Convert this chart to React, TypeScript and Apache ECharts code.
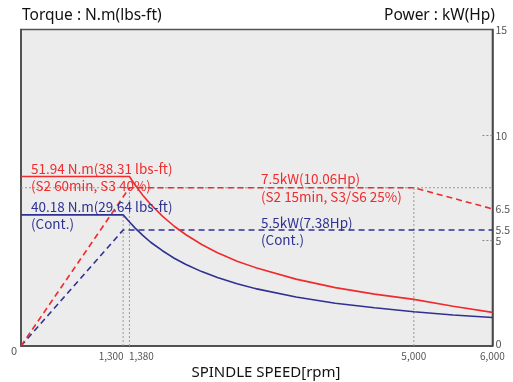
import React, { useEffect, useRef } from "react";
import * as echarts from "echarts";

// ---- data ----
const torqueS2: [number, number][] = [
  [0, 51.94], [1380, 51.94], [1450, 49.4], [1550, 46.2], [1650, 43.4], [1800, 39.8],
  [1950, 36.7], [2100, 34.1], [2300, 31.1], [2500, 28.6], [2750, 26.0], [3000, 23.9],
  [3500, 20.5], [4000, 17.9], [4500, 15.9], [5000, 14.3], [5500, 12.2], [6000, 10.3],
];
const torqueCont: [number, number][] = [
  [0, 40.18], [1300, 40.18], [1370, 38.3], [1450, 36.2], [1550, 33.9], [1650, 31.8],
  [1800, 29.2], [1950, 26.9], [2100, 25.0], [2300, 22.8], [2500, 21.0], [2750, 19.1],
  [3000, 17.5], [3500, 15.0], [4000, 13.1], [4500, 11.7], [5000, 10.5], [5500, 9.5],
  [6000, 8.75],
];
const powerS2: [number, number][] = [[0, 0], [1380, 7.5], [5000, 7.5], [6000, 6.5]];
const powerCont: [number, number][] = [[0, 0], [1300, 5.5], [6000, 5.5]];

const refV1300: [number, number][] = [[1300, 0], [1300, 40.18]]; // torque axis
const refV1380: [number, number][] = [[1380, 0], [1380, 7.5]]; // power axis
const refV5000: [number, number][] = [[5000, 0], [5000, 7.5]]; // power axis
const refH75: [number, number][] = [[0, 7.5], [6000, 7.5]]; // power axis

const xTickValues = [1300, 1380, 5000, 6000];
const xTickLabels = ["1,300", "1,380", "5,000", "6,000"];
const xTickStyles = ["l", "r", "c", "c"];
const torqueTickLabels = [0];
const powerTickLabels = [0, 5, 5.5, 6.5, 10, 15];
const powerDotTicks = [5, 10];

const annotS2 = ["51.94 N.m(38.31 lbs-ft)", "(S2 60min, S3 40%)"];
const annotCont = ["40.18 N.m(29.64 lbs-ft)", "(Cont.)"];
const annotPS2 = ["7.5kW(10.06Hp)", "(S2 15min, S3/S6 25%)"];
const annotPCont = ["5.5kW(7.38Hp)", "(Cont.)"];

const RED = "#ef2b2d";
const BLUE = "#2e3192";
const FONT = "'Noto Sans CJK KR', 'Noto Sans', sans-serif";
const FONT2 = "'Noto Sans', sans-serif";

export default function App() {
  const ref = useRef<HTMLDivElement>(null);
  useEffect(() => {
    if (!ref.current) return;
    const chart = echarts.init(ref.current, null, { renderer: "svg" });
    const dotted = (data: [number, number][], yIdx: number) => ({
      type: "line",
      data,
      yAxisIndex: yIdx,
      symbol: "none",
      silent: true,
      z: 1,
      lineStyle: { color: "#999", width: 1, type: [2, 2] },
    });
    const txt = (x: number, y: number, t: string, c: string) => ({
      type: "text",
      x,
      y,
      style: {
        text: t,
        fill: c,
        font: `13.5px ${FONT}`,
        textVerticalAlign: "middle",
      },
      z: 50,
    });
    chart.setOption({
      animation: false,
      textStyle: { fontFamily: FONT },
      grid: {
        left: 21,
        right: 14,
        top: 29.5,
        bottom: 36,
        show: true,
        backgroundColor: "#ececec",
        borderColor: "#555",
        borderWidth: 1.5,
      },
      xAxis: {
        type: "value",
        min: 0,
        max: 6000,
        splitLine: { show: false },
        axisLine: { lineStyle: { color: "#444", width: 1.5 } },
        axisTick: { show: false },
        axisLabel: {
          customValues: xTickValues,
          color: "#555",
          fontSize: 10,
          margin: 4,
          formatter: (v: number) => {
            const i = xTickValues.indexOf(v);
            return i < 0 ? "" : `{${xTickStyles[i]}|${xTickLabels[i]}}`;
          },
          rich: {
            l: { fontSize: 10, color: "#555", padding: [0, 24, 0, 0] },
            r: { fontSize: 10, color: "#555", padding: [0, 0, 0, 24] },
            c: { fontSize: 10, color: "#555" },
          },
        },
      },
      yAxis: [
        {
          type: "value",
          min: 0,
          max: 97,
          position: "left",
          splitLine: { show: false },
          axisLine: { show: true, lineStyle: { color: "#444", width: 1.5 } },
          axisTick: { show: false },
          axisLabel: {
            customValues: torqueTickLabels,
            margin: 4,
            formatter: (v: number) => `{z|${v}}`,
            rich: { z: { fontSize: 11, color: "#555", padding: [8, 0, 0, 0] } },
          },
        },
        {
          type: "value",
          min: 0,
          max: 15,
          position: "right",
          splitLine: { show: false },
          axisLine: { show: true, lineStyle: { color: "#444", width: 1.5 } },
          axisTick: {
            show: true,
            inside: true,
            length: 12,
            customValues: powerDotTicks,
            lineStyle: { color: "#888", width: 1, type: [2, 2] },
          },
          axisLabel: {
            customValues: powerTickLabels,
            color: "#555",
            fontSize: 10.5,
            margin: 3,
            formatter: (v: number) => (v === 0 ? `{z|0}` : String(v)),
            rich: { z: { fontSize: 11, color: "#555", padding: [0, 0, 6, 0] } },
          },
        },
      ],
      series: [
        dotted(refH75, 1),
        dotted(refV1300, 0),
        dotted(refV1380, 1),
        dotted(refV5000, 1),
        {
          type: "line",
          data: powerCont,
          yAxisIndex: 1,
          symbol: "none",
          z: 3,
          lineStyle: { color: BLUE, width: 1.6, type: [6, 4] },
        },
        {
          type: "line",
          data: powerS2,
          yAxisIndex: 1,
          symbol: "none",
          z: 3,
          lineStyle: { color: RED, width: 1.6, type: [6, 4] },
        },
        {
          type: "line",
          data: torqueCont,
          yAxisIndex: 0,
          symbol: "none",
          z: 4,
          lineStyle: { color: BLUE, width: 1.6 },
        },
        {
          type: "line",
          data: torqueS2,
          yAxisIndex: 0,
          symbol: "none",
          z: 4,
          lineStyle: { color: RED, width: 1.6 },
        },
      ],
      graphic: [
        {
          type: "text",
          left: 22,
          top: 6,
          style: { text: "Torque : N.m(lbs-ft)", fill: "#111", font: `15.5px ${FONT2}` },
        },
        {
          type: "text",
          right: 18,
          top: 6,
          style: { text: "Power : kW(Hp)", fill: "#111", font: `15.5px ${FONT2}` },
        },
        {
          type: "text",
          x: 266,
          y: 371,
          style: {
            text: "SPINDLE SPEED[rpm]",
            fill: "#111",
            font: `15px ${FONT2}`,
            textAlign: "center",
            textVerticalAlign: "middle",
          },
        },
        txt(31, 168, annotS2[0], RED),
        txt(31, 185, annotS2[1], RED),
        txt(31, 206, annotCont[0], BLUE),
        txt(31, 223, annotCont[1], BLUE),
        txt(261, 178, annotPS2[0], RED),
        txt(261, 196, annotPS2[1], RED),
        txt(261, 222, annotPCont[0], BLUE),
        txt(261, 239, annotPCont[1], BLUE),
      ],
    });
    return () => chart.dispose();
  }, []);
  return (
    <div
      ref={ref}
      style={{ position: "fixed", left: 0, top: 0, width: 513, height: 382 }}
    />
  );
}
